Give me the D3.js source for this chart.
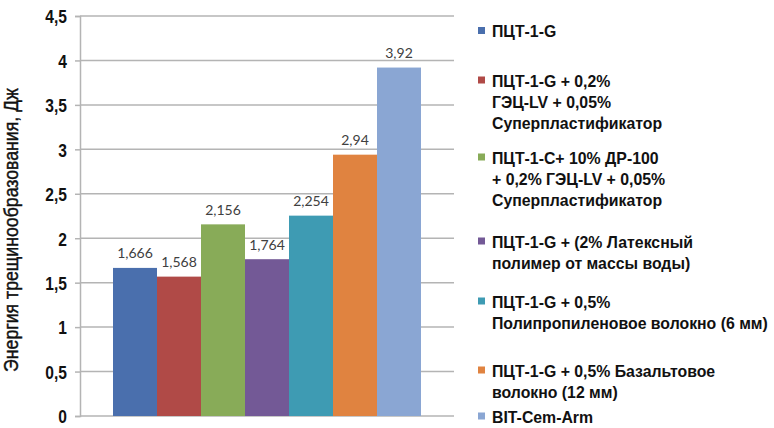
<!DOCTYPE html>
<html><head><meta charset="utf-8">
<script src="https://cdn.jsdelivr.net/npm/d3@7"></script>
<style>
html,body{margin:0;padding:0;background:#fff;}
svg{display:block;}
</style>
</head><body>
<svg id="chart" width="774" height="428"></svg>
<script>
const series = ["s1","s2","s3","s4","s5","s6","s7"];
const values = [1.666, 1.568, 2.156, 1.764, 2.254, 2.94, 3.92];
const valueLabels = ["1,666","1,568","2,156","1,764","2,254","2,94","3,92"];
const colors = ["#4a6fad","#b04a47","#88ab58","#735996","#3e9bb3","#e08340","#8aa6d3"];
const legendLabels = [
  ["ПЦТ-1-G"],
  ["ПЦТ-1-G + 0,2%","ГЭЦ-LV + 0,05%","Суперпластификатор"],
  ["ПЦТ-1-С+ 10% ДР-100","+ 0,2% ГЭЦ-LV + 0,05%","Суперпластификатор"],
  ["ПЦТ-1-G + (2% Латексный","полимер от массы воды)"],
  ["ПЦТ-1-G + 0,5%","Полипропиленовое волокно (6 мм)"],
  ["ПЦТ-1-G + 0,5% Базальтовое","волокно (12 мм)"],
  ["BIT-Cem-Arm"]
];
const yTicks = [0,0.5,1,1.5,2,2.5,3,3.5,4,4.5];
const yTickLabels = ["0","0,5","1","1,5","2","2,5","3","3,5","4","4,5"];
const yTitle = "Энергия трещинообразования, Дж";

const FONT = '"Liberation Sans", Arial, sans-serif';
const svg = d3.select("#chart");
const plot = {left:80, right:454, top:16, bottom:416};

const y = d3.scaleLinear().domain([0,4.5]).range([plot.bottom, plot.top]);
const x = d3.scaleBand().domain(series).range([plot.left, plot.right]).paddingInner(0).paddingOuter(0.75);

function measure(str, size, weight){
  const t = svg.append("text").style("font-family",FONT).attr("font-size",size).attr("font-weight",weight).text(str);
  const w = t.node().getComputedTextLength();
  t.remove();
  return w;
}

// gridlines
svg.append("g").selectAll("line").data(yTicks).join("line")
  .attr("x1", plot.left).attr("x2", plot.right)
  .attr("y1", d=>y(d)).attr("y2", d=>y(d))
  .attr("stroke","#b4b4b4").attr("stroke-width",1.5);

// axis
const yAxis = d3.axisLeft(y).tickValues(yTicks).tickSize(5).tickPadding(0)
  .tickFormat(()=>"");
const ax = svg.append("g").attr("transform",`translate(${plot.left},0)`).call(yAxis);
ax.select(".domain").attr("stroke","#b4b4b4").attr("stroke-width",1.5);
ax.selectAll(".tick line").attr("stroke","#b4b4b4").attr("stroke-width",1.5);
const tickScale = 0.82;
ax.selectAll(".tick").each(function(d,i){
  d3.select(this).append("text")
    .attr("transform",`translate(-13,6.8) scale(${tickScale},1)`)
    .attr("text-anchor","end")
    .style("font-family",FONT).attr("font-size",19).attr("font-weight","bold").attr("fill","#111")
    .text(yTickLabels[i]);
});

// bars
svg.append("g").selectAll("rect").data(values).join("rect")
  .attr("x",(d,i)=>x(series[i])).attr("width",x.bandwidth())
  .attr("y",d=>y(d)).attr("height",d=>y(0)-y(d))
  .attr("fill",(d,i)=>colors[i]);

// value labels
svg.append("g").selectAll("text").data(values).join("text")
  .attr("x",(d,i)=>x(series[i])+x.bandwidth()/2)
  .attr("y",d=>y(d)-9.5)
  .attr("text-anchor","middle")
  .style("font-family","Lato, 'Open Sans', sans-serif")
  .attr("font-size",14).attr("fill","#404040")
  .text((d,i)=>valueLabels[i]);

// y title
const titleW = measure(yTitle, 19.5, "normal");
const titleScale = 284 / titleW;
svg.append("text")
  .attr("transform",`translate(18,230) rotate(-90) scale(${titleScale},1)`)
  .attr("text-anchor","middle")
  .style("font-family",FONT)
  .attr("font-size",19.5).attr("fill","#111")
  .attr("stroke","#111").attr("stroke-width",0.45)
  .text(yTitle);

// legend
const legendY = [37, 86.5, 163.5, 247.5, 307.5, 376.5, 422.5];
const lineH = 21.5;
const legScale = 276 / measure("Полипропиленовое волокно (6 мм)", 16, "bold");
const lg = svg.append("g");
legendLabels.forEach((lines,i)=>{
  lg.append("rect").attr("x",478).attr("y",legendY[i]-10).attr("width",7).attr("height",7).attr("fill",colors[i]);
  const t = lg.append("text").attr("transform",`translate(492,${legendY[i]}) scale(${legScale},1)`)
    .style("font-family",FONT)
    .attr("font-size",16).attr("font-weight","bold").attr("fill","#111");
  lines.forEach((ln,j)=>{
    t.append("tspan").attr("x",0).attr("y",j*lineH).text(ln);
  });
});
</script>
</body></html>
